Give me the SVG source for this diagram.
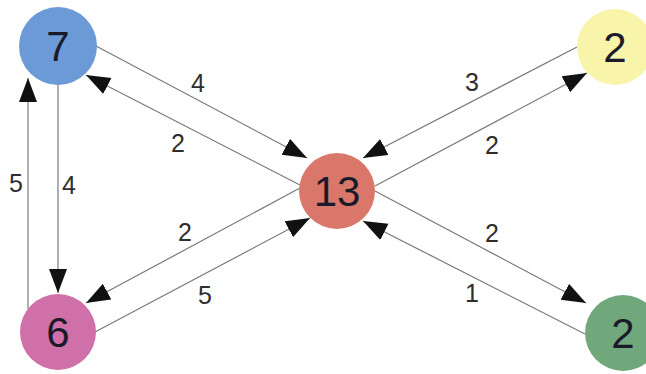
<svg xmlns="http://www.w3.org/2000/svg" width="646" height="374" viewBox="0 0 646 374">
<defs>
<marker id="arr" markerUnits="userSpaceOnUse" markerWidth="26" markerHeight="20" refX="24" refY="9" orient="auto">
<path d="M0,0 L24,9 L0,18 z" fill="#111"/>
</marker>
<style>
.e{stroke:#7a7a7a;stroke-width:1.2;fill:none;marker-end:url(#arr)}
.n{stroke:none}
.nt{font-family:"Liberation Sans",Arial,sans-serif;font-size:42px;fill:#1a1a2a;text-anchor:middle}
.lb{font-family:"Liberation Sans",Arial,sans-serif;font-size:25px;fill:#2e2e2e;text-anchor:middle}
</style>
</defs>
<rect width="646" height="374" fill="#ffffff"/>
<g id="connectors">
<line class="e" x1="96" y1="46" x2="307" y2="158"/>
<line class="e" x1="300" y1="185" x2="86" y2="75"/>
<line class="e" x1="58" y1="85" x2="58" y2="293"/>
<line class="e" x1="28" y1="309" x2="28" y2="78"/>
<line class="e" x1="300" y1="188" x2="86" y2="303"/>
<line class="e" x1="95" y1="332" x2="310" y2="218"/>
<line class="e" x1="577" y1="47" x2="363" y2="158"/>
<line class="e" x1="375" y1="186" x2="587" y2="73"/>
<line class="e" x1="375" y1="191" x2="586" y2="303"/>
<line class="e" x1="585" y1="334" x2="363" y2="221"/>
<text class="lb" x="198" y="92">4</text>
<text class="lb" x="178" y="152">2</text>
<text class="lb" x="16" y="192">5</text>
<text class="lb" x="69" y="194">4</text>
<text class="lb" x="472" y="91">3</text>
<text class="lb" x="492" y="154">2</text>
<text class="lb" x="492" y="242">2</text>
<text class="lb" x="472" y="302">1</text>
<text class="lb" x="185" y="241">2</text>
<text class="lb" x="205" y="304">5</text>
</g>
<g id="node-7"><circle class="n" cx="58" cy="46" r="39" fill="#6b9ad6"/><text class="nt" x="58" y="61">7</text></g>
<g id="node-13"><circle class="n" cx="337" cy="191" r="38" fill="#d9786a"/><text class="nt" x="337" y="206">13</text></g>
<g id="node-2-yellow"><circle class="n" cx="615" cy="47" r="38" fill="#f8f4aa"/><text class="nt" x="615" y="62">2</text></g>
<g id="node-6"><circle class="n" cx="58" cy="332" r="38" fill="#cf70a8"/><text class="nt" x="58" y="347">6</text></g>
<g id="node-2-green"><circle class="n" cx="623" cy="333" r="38" fill="#70a87c"/><text class="nt" x="623" y="348">2</text></g>
</svg>
